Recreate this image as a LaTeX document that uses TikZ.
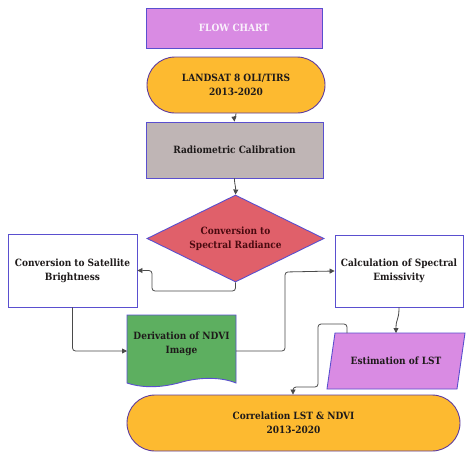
\documentclass[tikz,border=0pt]{standalone}
\usepackage{fontspec}
\setmainfont{DejaVu Serif Condensed}
\usetikzlibrary{shapes.geometric,arrows.meta,calc}
\definecolor{violetfill}{HTML}{D98BE3}
\definecolor{orangefill}{HTML}{FDBA30}
\definecolor{grayfill}{HTML}{BFB5B5}
\definecolor{redfill}{HTML}{E0606A}
\definecolor{greenfill}{HTML}{5DAF60}
\definecolor{edgeblue}{HTML}{5A4FCF}
\definecolor{edgepurple}{HTML}{5E3C9E}
\definecolor{linkgray}{HTML}{4A4A4A}
\definecolor{txt}{HTML}{1E1A1A}
\definecolor{txtred}{HTML}{4A0A10}
\begin{document}
\begin{tikzpicture}[x=1pt,y=-1pt,
  fnt/.style={font=\bfseries\fontsize{10}{14}\selectfont},
  base/.style={draw=edgeblue,line width=0.9pt,inner sep=0pt,align=center,fnt,text=txt},
  boxw/.style={base,rectangle,fill=white},
  pill/.style={base,rectangle,rounded corners=28pt,fill=orangefill,draw=edgepurple},
  link/.style={draw=linkgray,line width=0.8pt,rounded corners=3pt,
    -{Triangle[length=5pt,width=5pt]}},
  plain/.style={inner sep=0pt,align=center,fnt,text=txt}]
\useasboundingbox (0,0) rectangle (474,461);
\fill[white] (0,0) rectangle (474,461);

\node[base,fill=violetfill,minimum width=176pt,minimum height=40pt,text=white!88!violetfill] (title) at (234,28) {FLOW CHART};
\node[pill,minimum width=178pt,minimum height=56pt] (landsat) at (236,85) {LANDSAT 8 OLI/TIRS\\2013-2020};
\node[base,fill=grayfill,minimum width=177pt,minimum height=56pt] (radio) at (234.5,150) {Radiometric Calibration};
\node[base,diamond,fill=redfill,aspect=2.03,minimum width=177pt,minimum height=87pt,text=txtred] (conv) at (235.5,238.5) {Conversion to\\Spectral Radiance};
\node[boxw,minimum width=129pt,minimum height=73pt] (bright) at (72.5,270.5) {Conversion to Satellite\\Brightness};
\node[boxw,minimum width=128pt,minimum height=72pt] (emis) at (399,271) {Calculation of Spectral\\Emissivity};

% NDVI document shape
\coordinate (ntl) at (127,315);
\coordinate (ntr) at (236,315);
\fill[greenfill,draw=edgeblue,line width=0.9pt] (ntl) -- (ntr) -- (236,383)
  .. controls (222,377) and (200,377) .. (182,382)
  .. controls (165,387) and (145,389) .. (127,383) -- cycle;
\node[plain] (ndvi) at (181.5,344) {Derivation of NDVI\\Image};
\coordinate (ndviR) at (236,351);
\coordinate (ndviL) at (127,351);

% LST parallelogram
\fill[violetfill,draw=edgeblue,line width=0.9pt] (335,333) -- (465,333) -- (457,389) -- (327,389) -- cycle;
\node[plain] (lst) at (396,361) {Estimation of LST};
\coordinate (lstTop) at (396,333);
\coordinate (lstTL) at (347,333);

\node[pill,minimum width=333pt,minimum height=56pt] (corr) at (293.5,423) {Correlation LST \& NDVI\\2013-2020};

% connectors
\draw[link] (landsat.south) .. controls (236,118) and (234,117) .. (radio.north);
\draw[link] (radio.south) .. controls (234.5,186) and (236,186) .. (conv.north);
\draw[link] (conv.south) |- (152,291) |- (bright.east);
\draw[link] (bright.south) |- (ndviL);
\draw[link] (ndviR) -| (285,272) -- (emis.west);
\draw[link] (emis.south) .. controls (399,321) and (396,318) .. (lstTop);
\draw[link] (lstTL) |- (318,324) |- (293,387) -- (corr.north -| 293,395);
\end{tikzpicture}
\end{document}
